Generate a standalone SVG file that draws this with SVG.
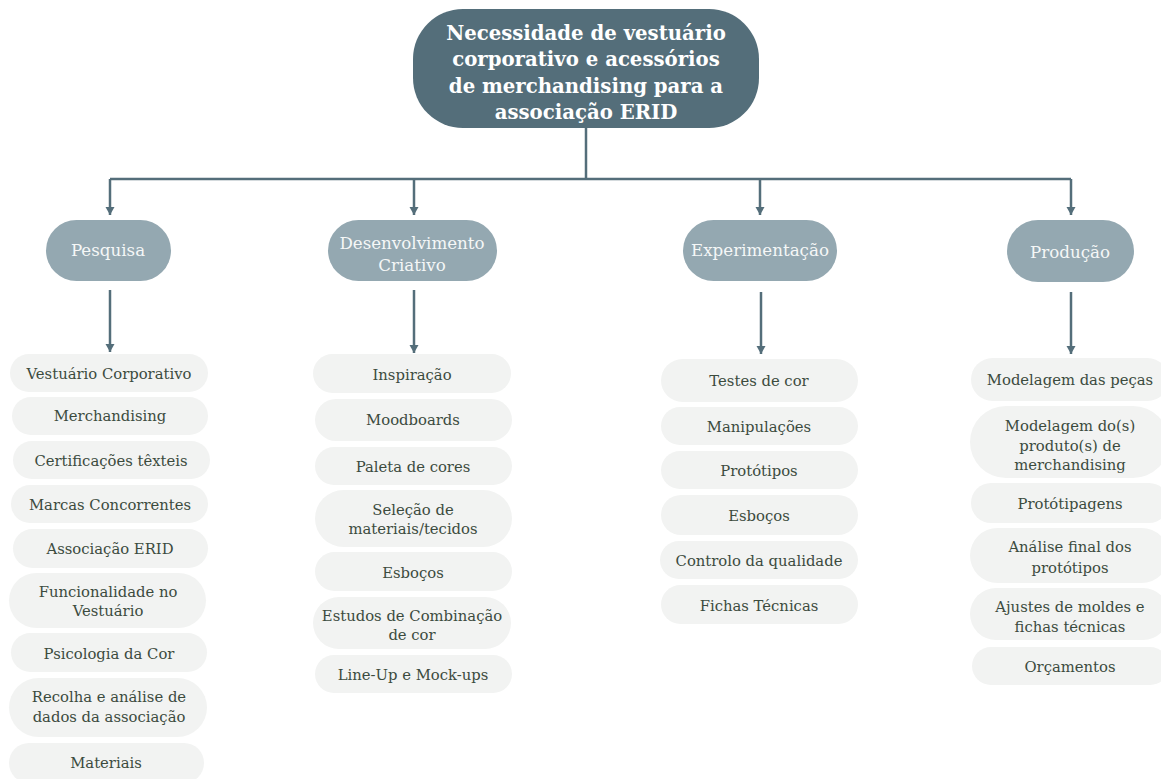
<svg xmlns="http://www.w3.org/2000/svg" width="1161" height="779" viewBox="0 0 1161 779">
<defs>
<style>
.root{fill:#546e7a}
.cat{fill:#94a8b1}
.item{fill:#f2f3f2}
.rt{font-family:"DejaVu Serif",serif;font-weight:bold;font-size:19.7px;fill:#ffffff;text-anchor:middle}
.ct{font-family:"DejaVu Serif",serif;font-size:16.7px;fill:#f5f7f7;text-anchor:middle}
.it{font-family:"DejaVu Serif",serif;font-size:14.8px;fill:#3c4b3e;text-anchor:middle}
.ln{stroke:#546e7a;stroke-width:2.5;fill:none}
</style>
<marker id="ah" viewBox="0 0 10 10" refX="9" refY="5" markerWidth="10" markerHeight="10" markerUnits="userSpaceOnUse" orient="auto">
<path d="M1,0.5 L9,5 L1,9.5 Z" fill="#546e7a"/>
</marker>
</defs>
<rect width="1161" height="779" fill="#ffffff"/>

<g id="connectors">
<path class="ln" d="M586,128 V179"/>
<path class="ln" d="M110,179 H1071"/>
<path class="ln" d="M110,179 V215" marker-end="url(#ah)"/>
<path class="ln" d="M414,179 V215" marker-end="url(#ah)"/>
<path class="ln" d="M760,179 V215" marker-end="url(#ah)"/>
<path class="ln" d="M1071,179 V215" marker-end="url(#ah)"/>
<path class="ln" d="M110,290 V352" marker-end="url(#ah)"/>
<path class="ln" d="M414,290 V353" marker-end="url(#ah)"/>
<path class="ln" d="M761,292 V354" marker-end="url(#ah)"/>
<path class="ln" d="M1071,292 V354" marker-end="url(#ah)"/>
</g>

<g id="root">
<rect class="root" x="413" y="9" width="346" height="119" rx="50"/>
<text class="rt" x="586" y="40">Necessidade de vestuário</text>
<text class="rt" x="586" y="66">corporativo e acessórios</text>
<text class="rt" x="586" y="93">de merchandising para a</text>
<text class="rt" x="586" y="119">associação ERID</text>
</g>

<g id="cat-pesquisa">
<rect class="cat" x="46" y="220" width="125" height="61" rx="30.5"/>
<text class="ct" x="108" y="256">Pesquisa</text>
</g>
<g id="cat-desenvolvimento">
<rect class="cat" x="328" y="220" width="169" height="61" rx="30.5"/>
<text class="ct" x="412" y="249">Desenvolvimento</text>
<text class="ct" x="412" y="271">Criativo</text>
</g>
<g id="cat-experimentacao">
<rect class="cat" x="683" y="220" width="154" height="61" rx="30.5"/>
<text class="ct" x="760" y="256">Experimentação</text>
</g>
<g id="cat-producao">
<rect class="cat" x="1007" y="220" width="127" height="62" rx="31"/>
<text class="ct" x="1070" y="258">Produção</text>
</g>

<!-- Column 1 -->
<g id="p1"><rect class="item" x="10" y="354" width="198" height="38" rx="19"/><text class="it" x="109" y="379">Vestuário Corporativo</text></g>
<g id="p2"><rect class="item" x="12" y="397" width="196" height="38" rx="19"/><text class="it" x="110" y="421">Merchandising</text></g>
<g id="p3"><rect class="item" x="13" y="441" width="197" height="38" rx="19"/><text class="it" x="111" y="466">Certificações têxteis</text></g>
<g id="p4"><rect class="item" x="11" y="485" width="197" height="38" rx="19"/><text class="it" x="110" y="510">Marcas Concorrentes</text></g>
<g id="p5"><rect class="item" x="13" y="529" width="195" height="39" rx="19.5"/><text class="it" x="110" y="554">Associação ERID</text></g>
<g id="p6"><rect class="item" x="9" y="573" width="197" height="55" rx="27.5"/><text class="it" x="108" y="597">Funcionalidade no</text><text class="it" x="108" y="616">Vestuário</text></g>
<g id="p7"><rect class="item" x="11" y="633" width="196" height="39" rx="19.5"/><text class="it" x="109" y="659">Psicologia da Cor</text></g>
<g id="p8"><rect class="item" x="9" y="678" width="198" height="59" rx="29.5"/><text class="it" x="109" y="702">Recolha e análise de</text><text class="it" x="109" y="722">dados da associação</text></g>
<g id="p9"><rect class="item" x="9" y="743" width="195" height="40" rx="20"/><text class="it" x="106" y="768">Materiais</text></g>

<!-- Column 2 -->
<g id="d1"><rect class="item" x="313" y="354" width="198" height="39" rx="19.5"/><text class="it" x="412" y="380">Inspiração</text></g>
<g id="d2"><rect class="item" x="315" y="399" width="197" height="42" rx="21"/><text class="it" x="413" y="425">Moodboards</text></g>
<g id="d3"><rect class="item" x="315" y="447" width="197" height="38" rx="19"/><text class="it" x="413" y="472">Paleta de cores</text></g>
<g id="d4"><rect class="item" x="315" y="490" width="197" height="57" rx="28.5"/><text class="it" x="413" y="515">Seleção de</text><text class="it" x="413" y="534">materiais/tecidos</text></g>
<g id="d5"><rect class="item" x="315" y="552" width="197" height="39" rx="19.5"/><text class="it" x="413" y="578">Esboços</text></g>
<g id="d6"><rect class="item" x="313" y="597" width="198" height="52" rx="26"/><text class="it" x="412" y="621">Estudos de Combinação</text><text class="it" x="412" y="640">de cor</text></g>
<g id="d7"><rect class="item" x="315" y="655" width="197" height="38" rx="19"/><text class="it" x="413" y="680">Line-Up e Mock-ups</text></g>

<!-- Column 3 -->
<g id="e1"><rect class="item" x="661" y="359" width="197" height="43" rx="21.5"/><text class="it" x="759" y="386">Testes de cor</text></g>
<g id="e2"><rect class="item" x="661" y="407" width="197" height="38" rx="19"/><text class="it" x="759" y="432">Manipulações</text></g>
<g id="e3"><rect class="item" x="661" y="451" width="197" height="38" rx="19"/><text class="it" x="759" y="476">Protótipos</text></g>
<g id="e4"><rect class="item" x="661" y="495" width="197" height="40" rx="20"/><text class="it" x="759" y="521">Esboços</text></g>
<g id="e5"><rect class="item" x="660" y="541" width="198" height="38" rx="19"/><text class="it" x="759" y="566">Controlo da qualidade</text></g>
<g id="e6"><rect class="item" x="661" y="585" width="197" height="39" rx="19.5"/><text class="it" x="759" y="611">Fichas Técnicas</text></g>

<!-- Column 4 -->
<g id="r1"><rect class="item" x="971" y="358" width="198" height="43" rx="21.5"/><text class="it" x="1070" y="385">Modelagem das peças</text></g>
<g id="r2"><rect class="item" x="970" y="406" width="199" height="72" rx="36"/><text class="it" x="1070" y="431">Modelagem do(s)</text><text class="it" x="1070" y="451">produto(s) de</text><text class="it" x="1070" y="470">merchandising</text></g>
<g id="r3"><rect class="item" x="971" y="483" width="198" height="40" rx="20"/><text class="it" x="1070" y="509">Protótipagens</text></g>
<g id="r4"><rect class="item" x="970" y="528" width="199" height="55" rx="27.5"/><text class="it" x="1070" y="552">Análise final dos</text><text class="it" x="1070" y="573">protótipos</text></g>
<g id="r5"><rect class="item" x="970" y="588" width="199" height="52" rx="26"/><text class="it" x="1070" y="612">Ajustes de moldes e</text><text class="it" x="1070" y="632">fichas técnicas</text></g>
<g id="r6"><rect class="item" x="972" y="647" width="197" height="38" rx="19"/><text class="it" x="1070" y="672">Orçamentos</text></g>
</svg>
